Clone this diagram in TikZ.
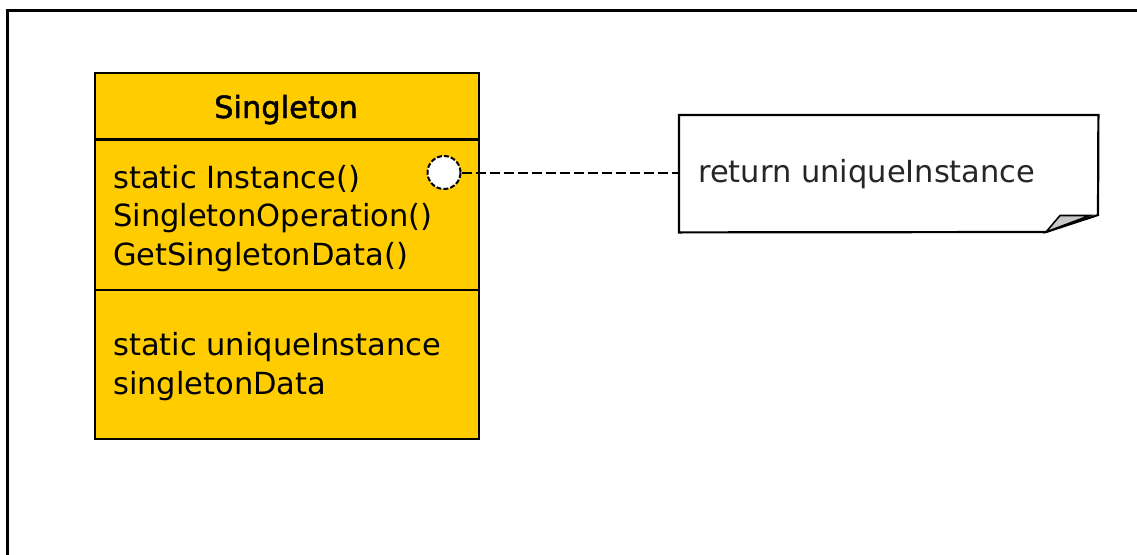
\documentclass[tikz,border=0pt]{standalone}
\usepackage{fontspec}
\setmainfont{DejaVu Sans}
\definecolor{umlyellow}{HTML}{FFCC00}
\definecolor{foldgray}{HTML}{C8C8C8}
\tikzset{
  txt/.style={inner sep=0pt, anchor=base west, font=\fontsize{30.5}{38}\selectfont},
  boxline/.style={line width=2.2pt, draw=black},
  dashline/.style={line width=2pt, dash pattern=on 10pt off 4pt},
}
\begin{document}
\begin{tikzpicture}[x=1pt,y=-1pt]
\useasboundingbox (0,0) rectangle (1137,554);
\fill[white] (0,0) rectangle (1137,554);
\begin{scope}
\clip (0,0) rectangle (1137,554);
\draw[line width=3.2pt, black] (7.5,10.5) rectangle (1160,580);
\end{scope}
% class box
\node[boxline, fill=umlyellow, minimum width=384pt, minimum height=366pt, inner sep=0pt, anchor=north west] (cls) at (94,71.5) {};
\draw[boxline] (94,139.5) -- (478,139.5);
\draw[boxline] (94,290) -- (478,290);
\node[txt, anchor=base, font=\fontsize{30.5}{38}\selectfont\addfontfeature{FakeBold=1.6}] (title) at (286,118) {Singleton};
\node[txt] (m1) at (113,188) {static Instance()};
\node[txt] (m2) at (113,226.5) {SingletonOperation()};
\node[txt] (m3) at (113,265) {GetSingletonData()};
\node[txt] (a1) at (113,355) {static uniqueInstance};
\node[txt] (a2) at (113,394) {singletonData};
% note
\node[inner sep=0pt, minimum width=419pt, minimum height=117pt, anchor=north west] (note) at (679,115) {};
\draw[line width=2.2pt] (note.north west) -- (note.north east) -- (1098,215) -- (1046,232) -- (note.south west) -- cycle;
\filldraw[fill=foldgray, draw=black, line width=1.6pt] (1046,232) -- (1060,215.5) -- (1090,215.5) -- cycle;
\node[txt, text=black!85] (ret) at (698,182) {return uniqueInstance};
% circle and connector
\node[circle, draw=black, line width=2pt, dash pattern=on 5pt off 2pt, fill=white, minimum size=33pt, inner sep=0pt] (c) at (444,172.5) {};
\draw[dashline] (c.east) -- (note.west |- c.east);
\end{tikzpicture}
\end{document}
